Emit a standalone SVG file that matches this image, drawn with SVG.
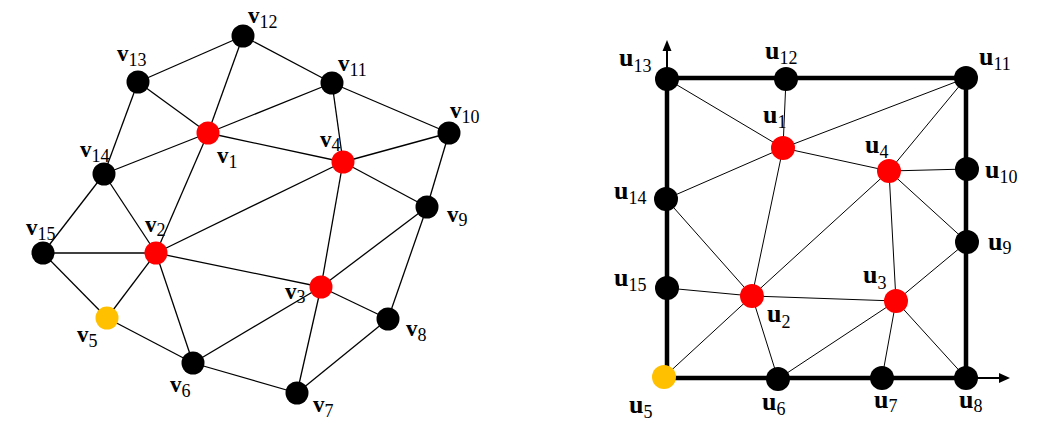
<svg xmlns="http://www.w3.org/2000/svg" width="1045" height="439" viewBox="0 0 1045 439">
<style>
.e{stroke:#000;stroke-width:1.3;fill:none}
.t{stroke:#000;stroke-width:1;fill:none}
.box{stroke:#000;stroke-width:4.5;fill:none;stroke-linecap:square}
.ax{stroke:#000;stroke-width:2;fill:none}
.k{fill:#000}.r{fill:#FF0000}.y{fill:#FFC000}
text{font-family:"Liberation Serif","DejaVu Serif",serif;fill:#000}
.m{font-weight:bold;font-size:23px}
.mu{font-weight:bold;font-size:26px}
.s{font-size:18px}
.su{font-size:18px}
</style>
<rect width="1045" height="439" fill="#fff"/>
<g id="connectors">
<g id="left-edges">
<line class="e" x1="243" y1="36" x2="138" y2="82"/>
<line class="e" x1="243" y1="36" x2="208" y2="133"/>
<line class="e" x1="243" y1="36" x2="332" y2="83"/>
<line class="e" x1="138" y1="82" x2="208" y2="133"/>
<line class="e" x1="138" y1="82" x2="104" y2="174"/>
<line class="e" x1="104" y1="174" x2="208" y2="133"/>
<line class="e" x1="104" y1="174" x2="43" y2="253"/>
<line class="e" x1="104" y1="174" x2="156" y2="253"/>
<line class="e" x1="208" y1="133" x2="332" y2="83"/>
<line class="e" x1="208" y1="133" x2="343" y2="162"/>
<line class="e" x1="208" y1="133" x2="156" y2="253"/>
<line class="e" x1="332" y1="83" x2="343" y2="162"/>
<line class="e" x1="332" y1="83" x2="449" y2="133"/>
<line class="e" x1="449" y1="133" x2="343" y2="162"/>
<line class="e" x1="449" y1="133" x2="427" y2="207"/>
<line class="e" x1="343" y1="162" x2="427" y2="207"/>
<line class="e" x1="343" y1="162" x2="156" y2="253"/>
<line class="e" x1="343" y1="162" x2="321" y2="287"/>
<line class="e" x1="427" y1="207" x2="321" y2="287"/>
<line class="e" x1="427" y1="207" x2="388" y2="319"/>
<line class="e" x1="43" y1="253" x2="156" y2="253"/>
<line class="e" x1="43" y1="253" x2="107" y2="318"/>
<line class="e" x1="156" y1="253" x2="107" y2="318"/>
<line class="e" x1="156" y1="253" x2="193" y2="363"/>
<line class="e" x1="156" y1="253" x2="321" y2="287"/>
<line class="e" x1="107" y1="318" x2="193" y2="363"/>
<line class="e" x1="193" y1="363" x2="321" y2="287"/>
<line class="e" x1="193" y1="363" x2="297" y2="393"/>
<line class="e" x1="321" y1="287" x2="388" y2="319"/>
<line class="e" x1="321" y1="287" x2="297" y2="393"/>
<line class="e" x1="297" y1="393" x2="388" y2="319"/>
</g>
<g id="right-edges">
<line class="t" x1="667" y1="79" x2="783" y2="148"/>
<line class="t" x1="786" y1="79" x2="783" y2="148"/>
<line class="t" x1="666" y1="199" x2="783" y2="148"/>
<line class="t" x1="783" y1="148" x2="966" y2="78"/>
<line class="t" x1="783" y1="148" x2="889" y2="171"/>
<line class="t" x1="783" y1="148" x2="752" y2="296"/>
<line class="t" x1="966" y1="78" x2="889" y2="171"/>
<line class="t" x1="889" y1="171" x2="967" y2="169"/>
<line class="t" x1="889" y1="171" x2="752" y2="296"/>
<line class="t" x1="889" y1="171" x2="896" y2="301"/>
<line class="t" x1="889" y1="171" x2="967" y2="242"/>
<line class="t" x1="666" y1="199" x2="752" y2="296"/>
<line class="t" x1="667" y1="288" x2="752" y2="296"/>
<line class="t" x1="664" y1="377" x2="752" y2="296"/>
<line class="t" x1="752" y1="296" x2="778" y2="379"/>
<line class="t" x1="752" y1="296" x2="896" y2="301"/>
<line class="t" x1="778" y1="379" x2="896" y2="301"/>
<line class="t" x1="896" y1="301" x2="882" y2="378"/>
<line class="t" x1="896" y1="301" x2="966" y2="378"/>
<line class="t" x1="896" y1="301" x2="967" y2="242"/>
</g>
<g id="frame">
<polyline class="box" points="667,78 966,78 966,378 667,378 667,78"/>
<line class="ax" x1="667" y1="78" x2="667" y2="48"/>
<polygon points="667,40 662.5,51 671.5,51" fill="#000"/>
<line class="ax" x1="966" y1="378" x2="1001" y2="378"/>
<polygon points="1010,378 999,373 999,383" fill="#000"/>
</g>
</g>
<g id="v12"><circle class="k" cx="243" cy="36" r="11.5"/><text x="248" y="23"><tspan class="m">v</tspan><tspan class="s" dy="5">12</tspan></text></g>
<g id="v13"><circle class="k" cx="138" cy="82" r="11.5"/><text x="117" y="61"><tspan class="m">v</tspan><tspan class="s" dy="5">13</tspan></text></g>
<g id="v11"><circle class="k" cx="332" cy="83" r="11.5"/><text x="338" y="71"><tspan class="m">v</tspan><tspan class="s" dy="5">11</tspan></text></g>
<g id="v10"><circle class="k" cx="449" cy="133" r="11.5"/><text x="450" y="118"><tspan class="m">v</tspan><tspan class="s" dy="5">10</tspan></text></g>
<g id="v14"><circle class="k" cx="104" cy="174" r="11.5"/><text x="80" y="157"><tspan class="m">v</tspan><tspan class="s" dy="5">14</tspan></text></g>
<g id="v1"><circle class="r" cx="208" cy="133" r="11.5"/><text x="217" y="163"><tspan class="m">v</tspan><tspan class="s" dy="5">1</tspan></text></g>
<g id="v4"><circle class="r" cx="343" cy="162" r="11.5"/><text x="320" y="147"><tspan class="m">v</tspan><tspan class="s" dy="4">4</tspan></text></g>
<g id="v9"><circle class="k" cx="427" cy="207" r="11.5"/><text x="447" y="222"><tspan class="m">v</tspan><tspan class="s" dy="4">9</tspan></text></g>
<g id="v15"><circle class="k" cx="43" cy="253" r="11.5"/><text x="26" y="235"><tspan class="m">v</tspan><tspan class="s" dy="5">15</tspan></text></g>
<g id="v2"><circle class="r" cx="156" cy="253" r="11.5"/><text x="145" y="232"><tspan class="m">v</tspan><tspan class="s" dy="4">2</tspan></text></g>
<g id="v3"><circle class="r" cx="321" cy="287" r="11.5"/><text x="285" y="299"><tspan class="m">v</tspan><tspan class="s" dy="4">3</tspan></text></g>
<g id="v5"><circle class="y" cx="107" cy="318" r="11.5"/><text x="77" y="342"><tspan class="m">v</tspan><tspan class="s" dy="5">5</tspan></text></g>
<g id="v8"><circle class="k" cx="388" cy="319" r="11.5"/><text x="406" y="336"><tspan class="m">v</tspan><tspan class="s" dy="5">8</tspan></text></g>
<g id="v6"><circle class="k" cx="193" cy="363" r="11.5"/><text x="170" y="392"><tspan class="m">v</tspan><tspan class="s" dy="5">6</tspan></text></g>
<g id="v7"><circle class="k" cx="297" cy="393" r="11.5"/><text x="313" y="412"><tspan class="m">v</tspan><tspan class="s" dy="5">7</tspan></text></g>
<g id="u13"><circle class="k" cx="667" cy="79" r="12"/><text x="619" y="66"><tspan class="mu">u</tspan><tspan class="su" dy="6">13</tspan></text></g>
<g id="u12"><circle class="k" cx="786" cy="79" r="12"/><text x="765" y="59"><tspan class="mu">u</tspan><tspan class="su" dy="5">12</tspan></text></g>
<g id="u11"><circle class="k" cx="966" cy="78" r="12"/><text x="979" y="65"><tspan class="mu">u</tspan><tspan class="su" dy="5">11</tspan></text></g>
<g id="u1"><circle class="r" cx="783" cy="148" r="12"/><text x="763" y="123"><tspan class="mu">u</tspan><tspan class="su" dy="5">1</tspan></text></g>
<g id="u4"><circle class="r" cx="889" cy="171" r="12"/><text x="865" y="153"><tspan class="mu">u</tspan><tspan class="su" dy="5">4</tspan></text></g>
<g id="u10"><circle class="k" cx="967" cy="169" r="12"/><text x="985" y="178"><tspan class="mu">u</tspan><tspan class="su" dy="5">10</tspan></text></g>
<g id="u14"><circle class="k" cx="666" cy="199" r="12"/><text x="614" y="199"><tspan class="mu">u</tspan><tspan class="su" dy="5">14</tspan></text></g>
<g id="u9"><circle class="k" cx="967" cy="242" r="12"/><text x="988" y="250"><tspan class="mu">u</tspan><tspan class="su" dy="4">9</tspan></text></g>
<g id="u15"><circle class="k" cx="667" cy="288" r="12"/><text x="614" y="286"><tspan class="mu">u</tspan><tspan class="su" dy="5">15</tspan></text></g>
<g id="u2"><circle class="r" cx="752" cy="296" r="12"/><text x="767" y="322"><tspan class="mu">u</tspan><tspan class="su" dy="6">2</tspan></text></g>
<g id="u3"><circle class="r" cx="896" cy="301" r="12"/><text x="863" y="283"><tspan class="mu">u</tspan><tspan class="su" dy="6">3</tspan></text></g>
<g id="u5"><circle class="y" cx="664" cy="377" r="12"/><text x="629" y="413"><tspan class="mu">u</tspan><tspan class="su" dy="5">5</tspan></text></g>
<g id="u6"><circle class="k" cx="778" cy="379" r="12"/><text x="762" y="410"><tspan class="mu">u</tspan><tspan class="su" dy="5">6</tspan></text></g>
<g id="u7"><circle class="k" cx="882" cy="378" r="12"/><text x="874" y="408"><tspan class="mu">u</tspan><tspan class="su" dy="4">7</tspan></text></g>
<g id="u8"><circle class="k" cx="966" cy="378" r="12"/><text x="959" y="408"><tspan class="mu">u</tspan><tspan class="su" dy="4">8</tspan></text></g>
</svg>
